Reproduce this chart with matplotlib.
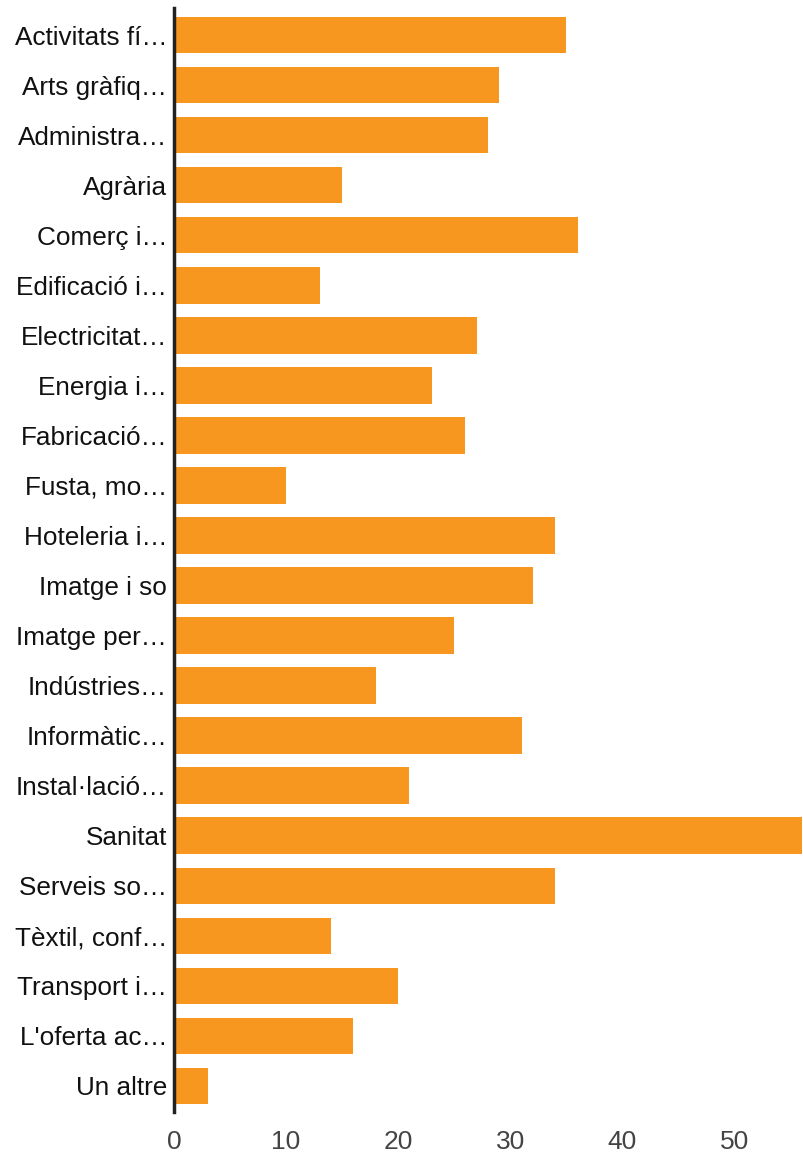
import matplotlib.pyplot as plt
import numpy as np

categories = ["Activitats fí…", "Arts gràfiq…", "Administra…", "Agrària", "Comerç i…",
              "Edificació i…", "Electricitat…", "Energia i…", "Fabricació…", "Fusta, mo…",
              "Hoteleria i…", "Imatge i so", "Imatge per…", "Indústries…", "Informàtic…",
              "Instal·lació…", "Sanitat", "Serveis so…", "Tèxtil, conf…", "Transport i…",
              "L'oferta ac…", "Un altre"]
values = [35, 29, 28, 15, 36, 13, 27, 23, 26, 10, 34, 32, 25, 18, 31, 21, 56, 34, 14, 20, 16, 3]
xticks = [0, 10, 20, 30, 40, 50]

plt.rcParams['font.family'] = ['Liberation Sans', 'DejaVu Sans']

fig = plt.figure(figsize=(8.04, 11.55), dpi=100)
ax = fig.add_axes([174/804, 43/1155, 630/804, 1104/1155])

y = np.arange(len(categories))
ax.barh(y, values, height=0.73, color="#F7971F")
ax.set_ylim(len(categories) - 0.48, -0.54)
ax.set_xlim(0, 56.2)

ax.set_yticks(y)
ax.set_yticklabels(categories, fontsize=18.8, color="#111111")
ax.set_xticks(xticks)
ax.set_xticklabels([str(t) for t in xticks], fontsize=19, color="#444444",
                   family=['Liberation Sans Narrow', 'Liberation Sans'])
ax.tick_params(axis="both", length=0)
ax.tick_params(axis="y", pad=5)
ax.tick_params(axis="x", pad=13)

for s in ["top", "right", "bottom"]:
    ax.spines[s].set_visible(False)
ax.spines["left"].set_linewidth(2.5)
ax.spines["left"].set_color("#222222")

plt.savefig("out.png", dpi=100)
